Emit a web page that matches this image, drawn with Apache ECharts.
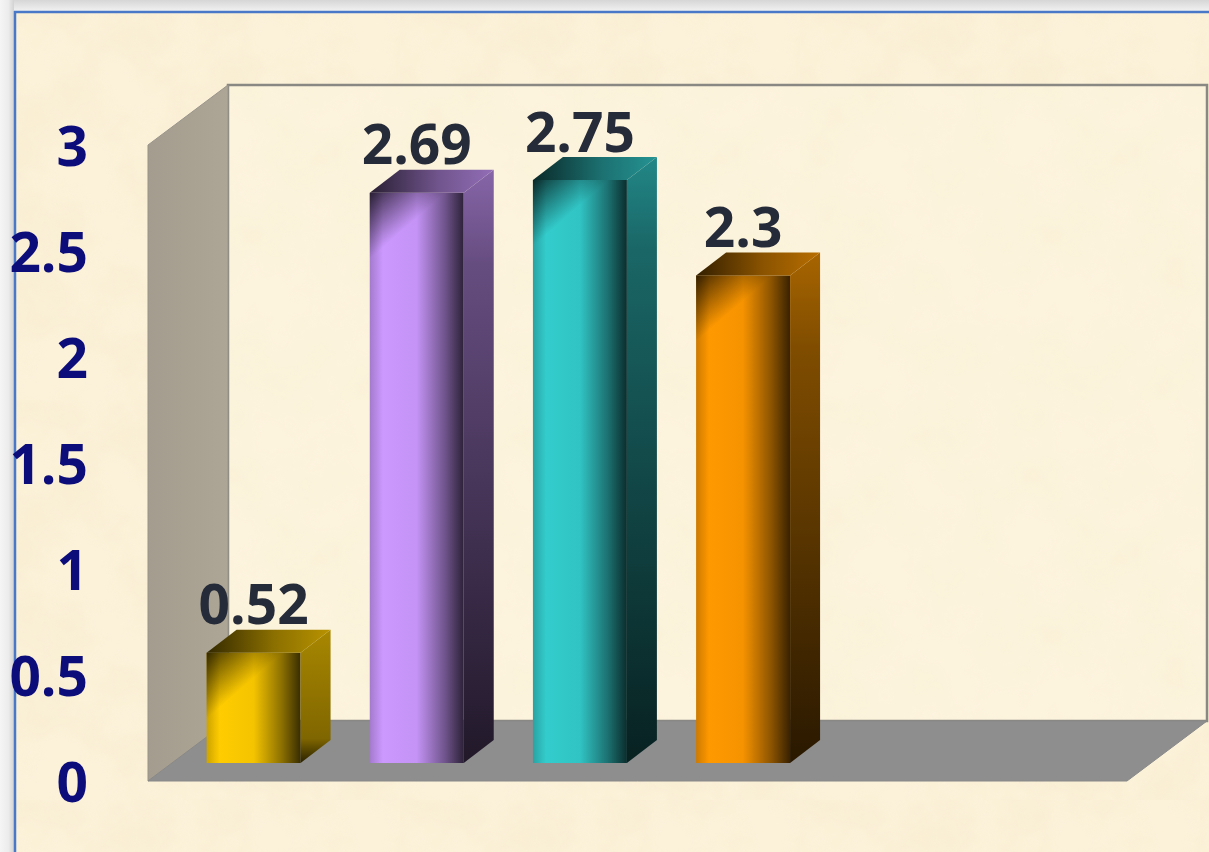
<!DOCTYPE html>
<html>
<head>
<meta charset="utf-8">
<script src="https://cdn.jsdelivr.net/npm/echarts@6/dist/echarts.min.js"></script>
<style>
  html, body { margin: 0; padding: 0; }
  #chart {
    width: 1209px; height: 852px;
    background-color: #fcf2da;
    background-image: url("data:image/svg+xml,%3Csvg xmlns='http://www.w3.org/2000/svg' width='400' height='400'%3E%3Cfilter id='n'%3E%3CfeTurbulence type='fractalNoise' baseFrequency='0.015' numOctaves='4' seed='7'/%3E%3CfeColorMatrix values='0 0 0 0 0.86 0 0 0 0 0.74 0 0 0 0 0.46 0.45 0 0 0 -0.16'/%3E%3C/filter%3E%3Crect width='100%25' height='100%25' filter='url(%23n)'/%3E%3C/svg%3E");
  }
</style>
</head>
<body>
<div id="chart"></div>
<script>
// Category slots on the floor (six slots, four of them carry a bar)
const categories = ['1', '2', '3', '4', '5', '6'];
// Bar heights
const values = [0.52, 2.69, 2.75, 2.3];
// Value axis range and step
const yMin = 0;
const yMax = 3;
const yStep = 0.5;
// Face colours of each bar
const barColors = ['#ffcc00', '#cc99ff', '#33cccc', '#ff9900'];

// 3D box: depth offset of the back wall from the front plane (px)
const BOX_DX = 80, BOX_DY = -60;
// bars stand a little behind the front plane and have their own depth
const BAR_OFF_X = 24, BAR_OFF_Y = -18;
const BAR_DX = 30, BAR_DY = -23;
const BAR_RATIO = 0.576;

function rgb(hex) {
  const n = parseInt(hex.slice(1), 16);
  return [(n >> 16) & 255, (n >> 8) & 255, n & 255];
}
function shade(hex, f, a) {
  const c = rgb(hex).map(v => Math.round(v * f));
  return a === undefined ? `rgb(${c[0]},${c[1]},${c[2]})` : `rgba(${c[0]},${c[1]},${c[2]},${a})`;
}
const LG = echarts.graphic.LinearGradient;

function renderBox(params, api) {
  const cs = params.coordSys;
  const x = cs.x, y = cs.y, w = cs.width, h = cs.height;
  return {
    type: 'group',
    children: [
      {
        type: 'rect',
        shape: { x: x + BOX_DX, y: y + BOX_DY, width: w, height: h },
        style: { fill: 'rgba(255,250,236,0.25)', stroke: '#8a8882', lineWidth: 2.5 }
      },
      {
        type: 'polygon',
        shape: { points: [[x, y], [x + BOX_DX, y + BOX_DY], [x + BOX_DX, y + h + BOX_DY], [x, y + h]] },
        style: {
          fill: new LG(0, 0, 1, 0, [
            { offset: 0, color: '#a49d8f' },
            { offset: 1, color: '#ada696' }
          ]),
          stroke: '#98938a', lineWidth: 1
        }
      },
      {
        type: 'polygon',
        shape: { points: [[x, y + h], [x + BOX_DX, y + h + BOX_DY], [x + w + BOX_DX, y + h + BOX_DY], [x + w, y + h]] },
        style: { fill: '#8e8e8e', stroke: '#888888', lineWidth: 1 }
      }
    ]
  };
}

function renderBar(params, api) {
  const idx = api.value(0);
  const val = api.value(1);
  const base = api.coord([idx, 0]);
  const topPt = api.coord([idx, val]);
  const band = api.size([1, 0])[0];
  const w = band * BAR_RATIO;
  const xL = base[0] - w / 2 + BAR_OFF_X;
  const xR = xL + w;
  const yB = base[1] + BAR_OFF_Y;
  const yT = topPt[1] + BAR_OFF_Y;
  const h = yB - yT;
  const c = barColors[params.dataIndex % barColors.length];
  const capH = Math.min(h, w * 0.8);

  return {
    type: 'group',
    children: [
      // front face
      {
        type: 'rect',
        shape: { x: xL, y: yT, width: w, height: h },
        style: {
          fill: new LG(0, 0, 1, 0, [
            { offset: 0, color: shade(c, 0.8) },
            { offset: 0.14, color: c },
            { offset: 0.5, color: shade(c, 0.96) },
            { offset: 0.8, color: shade(c, 0.55) },
            { offset: 1, color: shade(c, 0.22) }
          ])
        }
      },
      // shading of the upper-left corner of the front face
      {
        type: 'rect',
        shape: { x: xL, y: yT, width: w, height: capH },
        style: {
          fill: new LG(0, 0, 0.7, 1, [
            { offset: 0, color: 'rgba(0,0,0,0.75)' },
            { offset: 0.5, color: 'rgba(0,0,0,0)' },
            { offset: 1, color: 'rgba(0,0,0,0)' }
          ])
        }
      },
      // right side face
      {
        type: 'polygon',
        shape: { points: [[xR, yT], [xR + BAR_DX, yT + BAR_DY], [xR + BAR_DX, yB + BAR_DY], [xR, yB]] },
        style: {
          fill: new LG(0, 0, 0, 1, [
            { offset: 0, color: shade(c, 0.66) },
            { offset: Math.min(0.9, 90 / Math.max(h, 1)), color: shade(c, 0.5) },
            { offset: 1, color: shade(c, 0.16) }
          ])
        }
      },
      // top face
      {
        type: 'polygon',
        shape: { points: [[xL, yT], [xL + BAR_DX, yT + BAR_DY], [xR + BAR_DX, yT + BAR_DY], [xR, yT]] },
        style: {
          fill: new LG(0, 0, 1, 0, [
            { offset: 0, color: shade(c, 0.2) },
            { offset: 0.55, color: shade(c, 0.55) },
            { offset: 1, color: shade(c, 0.72) }
          ])
        }
      },
      // value label
      {
        type: 'text',
        style: {
          text: String(val),
          x: (xL + xR) / 2,
          y: yT + BAR_DY - 21,
          align: 'center',
          verticalAlign: 'middle',
          fill: '#252b38',
          font: 'bold 55px "Open Sans", "Liberation Sans", sans-serif'
        }
      }
    ]
  };
}

const chart = echarts.init(document.getElementById('chart'), null, { renderer: 'canvas' });
chart.setOption({
  backgroundColor: 'transparent',
  animation: false,
  grid: { left: 148, right: 82, top: 145, bottom: 71 },
  xAxis: {
    type: 'category',
    data: categories,
    axisLine: { show: false },
    axisTick: { show: false },
    axisLabel: { show: false },
    splitLine: { show: false }
  },
  yAxis: {
    type: 'value',
    min: yMin,
    max: yMax,
    interval: yStep,
    z: 10,
    axisLine: { show: false },
    axisTick: { show: false },
    splitLine: { show: false },
    axisLabel: {
      margin: 60,
      formatter: '{t|{value}}',
      rich: {
        t: {
          padding: [10, 0, 0, 0],
          color: '#0c0c7a',
          fontFamily: '"Open Sans", "Liberation Sans", sans-serif',
          fontWeight: 'bold',
          fontSize: 55
        }
      }
    }
  },
  graphic: [
    {
      type: 'rect', z: 0, silent: true,
      shape: { x: 0, y: 0, width: 1209, height: 11 },
      style: { fill: new LG(0, 0, 0, 1, [{ offset: 0, color: '#d6d6d6' }, { offset: 1, color: '#f1f1f1' }]) }
    },
    {
      type: 'rect', z: 0, silent: true,
      shape: { x: 0, y: 0, width: 14, height: 852 },
      style: { fill: new LG(0, 0, 1, 0, [{ offset: 0, color: '#f5f5f5' }, { offset: 0.6, color: '#ececec' }, { offset: 1, color: '#d2d2d2' }]) }
    },
    {
      type: 'line', z: 1, silent: true,
      shape: { x1: 14, y1: 12, x2: 1209, y2: 12 },
      style: { stroke: '#4a78c8', lineWidth: 2.5 }
    },
    {
      type: 'line', z: 1, silent: true,
      shape: { x1: 15, y1: 11, x2: 15, y2: 852 },
      style: { stroke: '#4a78c8', lineWidth: 2.5 }
    }
  ],
  series: [
    {
      type: 'custom',
      name: 'box',
      silent: true,
      clip: false,
      z: 1,
      renderItem: renderBox,
      data: [[0, 0]]
    },
    {
      type: 'custom',
      name: 'bars',
      silent: true,
      clip: false,
      z: 2,
      renderItem: renderBar,
      encode: { x: 0, y: 1 },
      data: values.map((v, i) => [i, v])
    }
  ]
});
</script>
</body>
</html>
